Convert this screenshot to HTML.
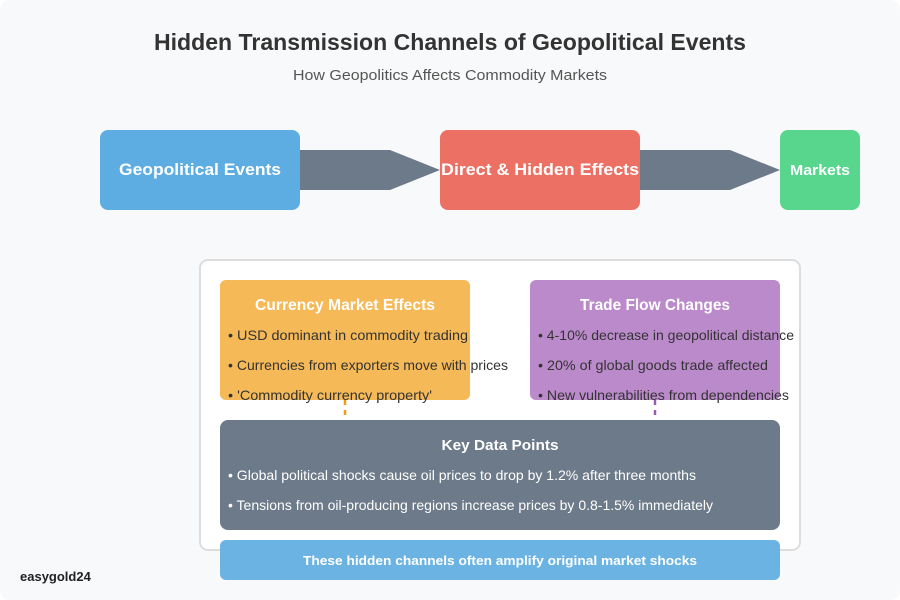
<!DOCTYPE html>
<html><head><meta charset="utf-8"><style>
html,body{margin:0;padding:0;background:#fff}
svg{display:block}
text{font-family:"Liberation Sans",sans-serif}
</style></head><body>
<svg width="900" height="600" viewBox="0 0 900 600">
<rect x="0" y="0" width="900" height="600" rx="10" fill="#f8f9fa"/>
<text x="450" y="50" text-anchor="middle" font-size="23" font-weight="bold" fill="#333" textLength="592" lengthAdjust="spacingAndGlyphs">Hidden Transmission Channels of Geopolitical Events</text>
<text x="450" y="80" text-anchor="middle" font-size="15" fill="#555" textLength="314" lengthAdjust="spacingAndGlyphs">How Geopolitics Affects Commodity Markets</text>

<polygon points="300,150 390,150 440,170 390,190 300,190" fill="#6c7a89"/>
<polygon points="640,150 730,150 780,170 730,190 640,190" fill="#6c7a89"/>
<rect x="100" y="130" width="200" height="80" rx="8" fill="#5dade2"/>
<text x="200" y="175" text-anchor="middle" font-size="17" font-weight="bold" fill="#fff" textLength="162" lengthAdjust="spacingAndGlyphs">Geopolitical Events</text>
<rect x="440" y="130" width="200" height="80" rx="8" fill="#ec7063"/>
<text x="540" y="175" text-anchor="middle" font-size="17" font-weight="bold" fill="#fff" textLength="198" lengthAdjust="spacingAndGlyphs">Direct &amp; Hidden Effects</text>
<rect x="780" y="130" width="80" height="80" rx="8" fill="#58d68d"/>
<text x="820" y="175" text-anchor="middle" font-size="15" font-weight="bold" fill="#fff" textLength="60" lengthAdjust="spacingAndGlyphs">Markets</text>

<rect x="200" y="260" width="600" height="290" rx="8" fill="#fff" stroke="#ddd" stroke-width="2"/>
<rect x="220" y="280" width="250" height="120" rx="6" fill="#f5b957"/>
<text x="345" y="310" text-anchor="middle" font-size="16" font-weight="bold" fill="#fff" textLength="180" lengthAdjust="spacingAndGlyphs">Currency Market Effects</text>
<g font-size="14" fill="#333">
<text x="228" y="340" textLength="240" lengthAdjust="spacingAndGlyphs">• USD dominant in commodity trading</text>
<text x="228" y="370" textLength="280" lengthAdjust="spacingAndGlyphs">• Currencies from exporters move with prices</text>
<text x="228" y="400" textLength="204" lengthAdjust="spacingAndGlyphs">• 'Commodity currency property'</text>
</g>
<rect x="530" y="280" width="250" height="120" rx="6" fill="#bb8acb"/>
<text x="655" y="310" text-anchor="middle" font-size="16" font-weight="bold" fill="#fff" textLength="150" lengthAdjust="spacingAndGlyphs">Trade Flow Changes</text>
<g font-size="14" fill="#333">
<text x="538" y="340" textLength="256" lengthAdjust="spacingAndGlyphs">• 4-10% decrease in geopolitical distance</text>
<text x="538" y="370" textLength="230" lengthAdjust="spacingAndGlyphs">• 20% of global goods trade affected</text>
<text x="538" y="400" textLength="251" lengthAdjust="spacingAndGlyphs">• New vulnerabilities from dependencies</text>
</g>
<line x1="345" y1="400" x2="345" y2="418" stroke="#f39c12" stroke-width="2.5" stroke-dasharray="5,5"/>
<line x1="655" y1="400" x2="655" y2="418" stroke="#9b59b6" stroke-width="2.5" stroke-dasharray="5,5"/>

<rect x="220" y="420" width="560" height="110" rx="8" fill="#6c7a89"/>
<text x="500" y="450" text-anchor="middle" font-size="15" font-weight="bold" fill="#fff" textLength="117" lengthAdjust="spacingAndGlyphs">Key Data Points</text>
<text x="228" y="480" font-size="14" fill="#fff" textLength="468" lengthAdjust="spacingAndGlyphs">• Global political shocks cause oil prices to drop by 1.2% after three months</text>
<text x="228" y="510" font-size="14" fill="#fff" textLength="485" lengthAdjust="spacingAndGlyphs">• Tensions from oil-producing regions increase prices by 0.8-1.5% immediately</text>

<rect x="220" y="540" width="560" height="40" rx="6" fill="#6bb3e3"/>
<text x="500" y="565" text-anchor="middle" font-size="13" font-weight="bold" fill="#fff" textLength="394" lengthAdjust="spacingAndGlyphs">These hidden channels often amplify original market shocks</text>
<text x="20" y="581" font-size="13" font-weight="bold" fill="#222">easygold24</text>
</svg>
</body></html>
